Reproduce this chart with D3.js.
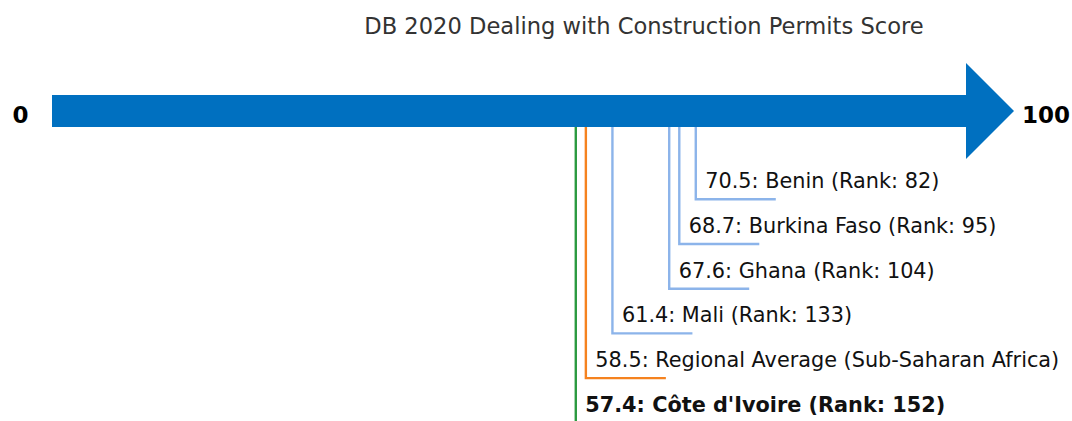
<!DOCTYPE html>
<html><head><meta charset="utf-8">
<script src="https://cdn.jsdelivr.net/npm/d3@7"></script>
<style>body{margin:0;background:#fff;}svg{display:block;font-family:"DejaVu Sans",sans-serif;}</style>
</head><body><svg id="c" width="1072" height="421"></svg>
<script>
const title = "DB 2020 Dealing with Construction Permits Score";
const names = ["Côte d'Ivoire", "Regional Average (Sub-Saharan Africa)", "Mali", "Ghana", "Burkina Faso", "Benin"];
const scores = [57.4, 58.5, 61.4, 67.6, 68.7, 70.5];
const ranks = [152, null, 133, 104, 95, 82];
const kinds = ["focus", "region", "peer", "peer", "peer", "peer"];
const axisTicks = [0, 100];

const svg = d3.select("#c");
const x = d3.scaleLinear().domain([0, 100]).range([50, 966]);
const colors = {focus: "#2b9a40", region: "#f5821f", peer: "#8cb4ea"};

svg.append("text").attr("x", 644).attr("y", 34).attr("text-anchor", "middle")
  .attr("font-size", 22.6).attr("fill", "#333").text(title);

const yMid = 111;
const p = d3.path();
p.moveTo(x(0) + 2, yMid - 16);
p.lineTo(x(100), yMid - 16);
p.lineTo(x(100), yMid - 48);
p.lineTo(x(100) + 48, yMid);
p.lineTo(x(100), yMid + 48);
p.lineTo(x(100), yMid + 16);
p.lineTo(x(0) + 2, yMid + 16);
p.closePath();
svg.append("path").attr("d", p.toString()).attr("fill", "#0070c0");

svg.append("text").attr("x", 20.5).attr("y", yMid + 12).attr("text-anchor", "middle")
  .attr("font-size", 23).attr("font-weight", "bold").text(axisTicks[0]);
svg.append("text").attr("x", 1046).attr("y", yMid + 12).attr("text-anchor", "middle")
  .attr("font-size", 23).attr("font-weight", "bold").text(axisTicks[1]);

const n = scores.length;
scores.forEach((s, i) => {
  const yEnd = 199.3 + (n - 1 - i) * 44.7;
  const xv = x(s);
  const c = colors[kinds[i]];
  svg.append("path")
    .attr("d", `M${xv},${yMid + 16}L${xv},${yEnd}L${xv + 80},${yEnd}`)
    .attr("fill", "none").attr("stroke", c).attr("stroke-width", 2.4);
  const label = s.toFixed(1) + ": " + names[i] + (ranks[i] != null ? " (Rank: " + ranks[i] + ")" : "");
  svg.append("text").attr("x", xv + 9.5).attr("y", yEnd - 11)
    .attr("font-size", 20.8).attr("fill", "#111")
    .attr("font-weight", kinds[i] === "focus" ? "bold" : "normal")
    .text(label);
});
</script></body></html>
